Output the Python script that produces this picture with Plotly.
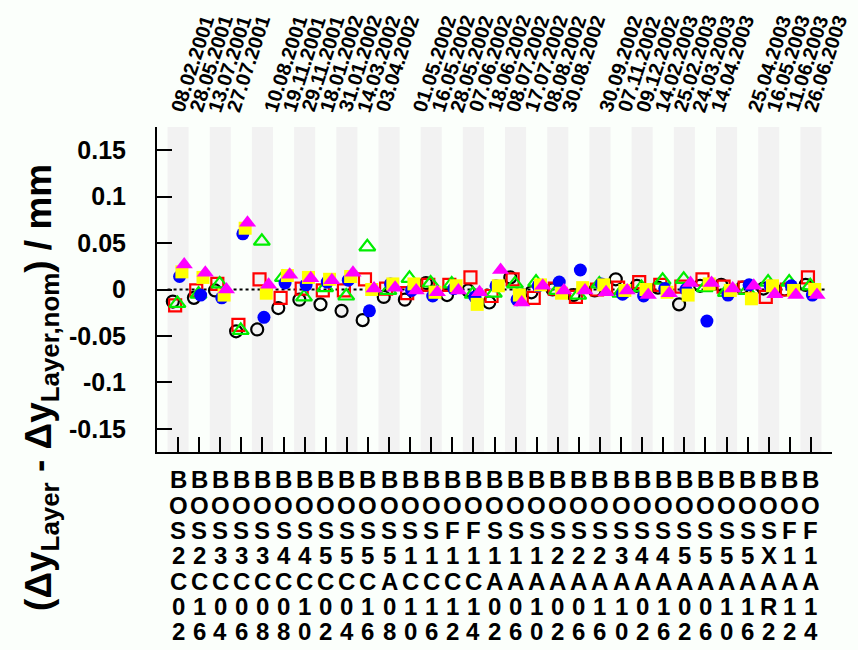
import plotly.graph_objects as go

# Chamber names (one column of characters per chamber)
chambers = [
    "BOS2C02", "BOS2C16", "BOS3C04", "BOS3C06", "BOS3C08", "BOS4C08", "BOS4C10",
    "BOS5C02", "BOS5C04", "BOS5C16", "BOS5A08", "BOS1C10", "BOS1C16", "BOF1C12",
    "BOF1C14", "BOS1A02", "BOS1A06", "BOS1A10", "BOS2A02", "BOS2A06", "BOS2A16",
    "BOS3A10", "BOS4A02", "BOS4A16", "BOS5A02", "BOS5A06", "BOS5A10", "BOS5A16",
    "BOSXAR2", "BOF1A12", "BOF1A14",
]

# Measurement dates, written as one text block; empty lines separate the campaigns
date_lines = [
    "08.02.2001", "28.05.2001", "13.07.2001", "27.07.2001", "",
    "10.08.2001", "19.11.2001", "29.11.2001", "18.01.2002", "31.01.2002",
    "14.03.2002", "03.04.2002", "",
    "01.05.2002", "16.05.2002", "28.05.2002", "07.06.2002", "18.06.2002",
    "08.07.2002", "17.07.2002", "08.08.2002", "30.08.2002", "",
    "30.09.2002", "07.11.2002", "09.12.2002", "14.02.2003", "25.02.2003",
    "24.03.2003", "14.04.2003", "",
    "25.04.2003", "16.05.2003", "11.06.2003", "26.06.2003",
]

# Deviations per chamber, mm
s1_vals = [-0.013, -0.009, -0.001, -0.045, -0.043, -0.020, -0.011, -0.016, -0.023, -0.033,
           -0.008, -0.011, 0.007, -0.006, -0.001, -0.014, 0.013, -0.003, 0.000, -0.006,
           -0.001, 0.011, 0.004, 0.002, -0.016, 0.004, 0.005, 0.002, 0.001, 0.000, 0.005]
s2_vals = [-0.017, -0.001, 0.006, -0.038, 0.011, -0.009, 0.001, -0.001, -0.001, 0.011,
           0.001, -0.004, 0.005, 0.005, 0.013, -0.007, 0.011, -0.009, 0.001, -0.008,
           0.000, 0.002, 0.008, 0.005, 0.003, 0.011, 0.003, 0.002, -0.008, 0.000, 0.013]
s3_vals = [-0.015, -0.005, 0.006, -0.044, 0.052, 0.013, -0.008, 0.002, -0.007, 0.046,
           -0.001, 0.012, 0.007, 0.006, -0.005, -0.004, 0.006, 0.008, -0.001, -0.006,
           0.006, -0.004, 0.002, 0.010, 0.011, 0.002, -0.003, -0.001, 0.008, 0.008, 0.004]
s4_vals = [0.014, -0.006, -0.009, 0.060, -0.030, 0.007, 0.005, 0.008, 0.010, -0.023,
           0.006, -0.001, -0.007, 0.001, -0.008, 0.004, -0.011, 0.004, 0.008, 0.021,
           0.006, -0.005, -0.007, 0.001, 0.000, -0.034, -0.006, 0.005, 0.004, 0.004, -0.006]
s5_vals = [0.019, 0.013, -0.006, 0.066, -0.004, 0.015, 0.013, 0.011, 0.014, 0.000,
           0.006, 0.006, -0.003, 0.004, -0.016, 0.004, -0.006, 0.005, -0.004, 0.002,
           0.005, -0.001, 0.000, -0.003, -0.006, 0.006, -0.001, -0.010, 0.004, -0.001, 0.000]
s6_vals = [0.027, 0.018, 0.000, 0.072, 0.005, 0.016, 0.012, 0.010, 0.018, 0.001,
           0.002, -0.001, -0.003, -0.001, -0.003, 0.021, -0.014, 0.004, -0.001, -0.001,
           -0.003, -0.001, -0.006, -0.004, 0.007, 0.007, 0.001, 0.004, -0.005, -0.006, -0.006]

y_tick_vals = [-0.15, -0.1, -0.05, 0, 0.05, 0.1, 0.15]
y_tick_text = ["-0.15", "-0.1", "-0.05", "0", "0.05", "0.1", "0.15"]

FONT = "Liberation Sans, Arial, Helvetica, sans-serif"
BG = "#FBFFFB"
STRIPE = "#F2F2F2"

n = len(chambers)
idx = list(range(1, n + 1))

# (values, symbol, colour, size, line width, dodge offset in category units)
series = [
    (s1_vals, "circle-open", "#000000", 12, 2.2, -0.25),
    (s2_vals, "square-open", "#FF0000", 12, 2.2, -0.14),
    (s3_vals, "triangle-up-open", "#00EE00", 14, 2.2, -0.03),
    (s4_vals, "circle", "#0000FF", 13, 0, 0.07),
    (s5_vals, "square", "#FFFF00", 13, 0, 0.18),
    (s6_vals, "triangle-up", "#FF00FF", 15, 0, 0.29),
]

fig = go.Figure()
for k, (vals, sym, col, size, lw, off) in enumerate(series):
    fig.add_trace(go.Scatter(
        x=[i + off for i in idx], y=vals, mode="markers", name=f"Serie {k + 1}",
        marker=dict(symbol=sym, color=col, size=size, line=dict(width=lw, color=col)),
        showlegend=False, cliponaxis=False,
    ))

shapes = []
for i in idx:
    if i % 2 == 1:
        shapes.append(dict(type="rect", xref="x", yref="paper", x0=i - 0.5, x1=i + 0.5,
                           y0=0, y1=1, fillcolor=STRIPE, line=dict(width=0), layer="below"))
shapes.append(dict(type="line", xref="x", yref="y", x0=0.5, x1=31.7, y0=0, y1=0,
                   line=dict(color="black", width=2, dash="dot"), layer="below"))

annotations = []
# chamber names, one character per row
row_y0 = -0.086
row_step = 0.0778
for i, name in zip(idx, chambers):
    for r, ch in enumerate(name):
        annotations.append(dict(
            x=i, y=row_y0 - r * row_step, xref="x", yref="paper", text=ch,
            showarrow=False, xanchor="center", yanchor="middle",
            font=dict(family=FONT, size=24, color="black", weight="bold"),
        ))

# date block above the plot
n_lines = len(date_lines)
for k, d in enumerate(date_lines):
    if not d:
        continue
    xpos = 1 + k * (n - 1) / (n_lines - 1)
    annotations.append(dict(
        x=xpos, y=1.195, xref="x", yref="paper", text=d, textangle=-72,
        showarrow=False, xanchor="center", yanchor="middle", xshift=14,
        font=dict(family=FONT, size=20, color="black", weight="bold"),
    ))

# axis title
annotations.append(dict(
    x=-0.172, y=0.2, xref="paper", yref="paper",
    text="(\u0394y<sub>Layer</sub> - \u0394y<sub>Layer,nom</sub>) / mm",
    textangle=-90, showarrow=False, xanchor="center", yanchor="middle",
    font=dict(family=FONT, size=37, color="black", weight="bold"),
))

fig.update_layout(
    width=858, height=650,
    margin=dict(l=157, r=26, t=127, b=198),
    paper_bgcolor=BG, plot_bgcolor=BG,
    shapes=shapes, annotations=annotations,
    showlegend=False,
    xaxis=dict(
        range=[0, n + 1], tickmode="array", tickvals=list(range(1, n + 2)),
        showticklabels=False, ticks="inside", ticklen=15, tickwidth=2, tickcolor="black",
        showline=True, linecolor="black", linewidth=2, showgrid=False, zeroline=False,
    ),
    yaxis=dict(
        range=[-0.175, 0.175], tickmode="array", tickvals=y_tick_vals, ticktext=y_tick_text,
        ticks="inside", ticklen=15, tickwidth=2, tickcolor="black",
        tickfont=dict(family=FONT, size=25, color="black", weight="bold"),
        ticklabelstandoff=24,
        showline=True, linecolor="black", linewidth=2, showgrid=False, zeroline=False,
    ),
)

fig.write_html("out.html")
